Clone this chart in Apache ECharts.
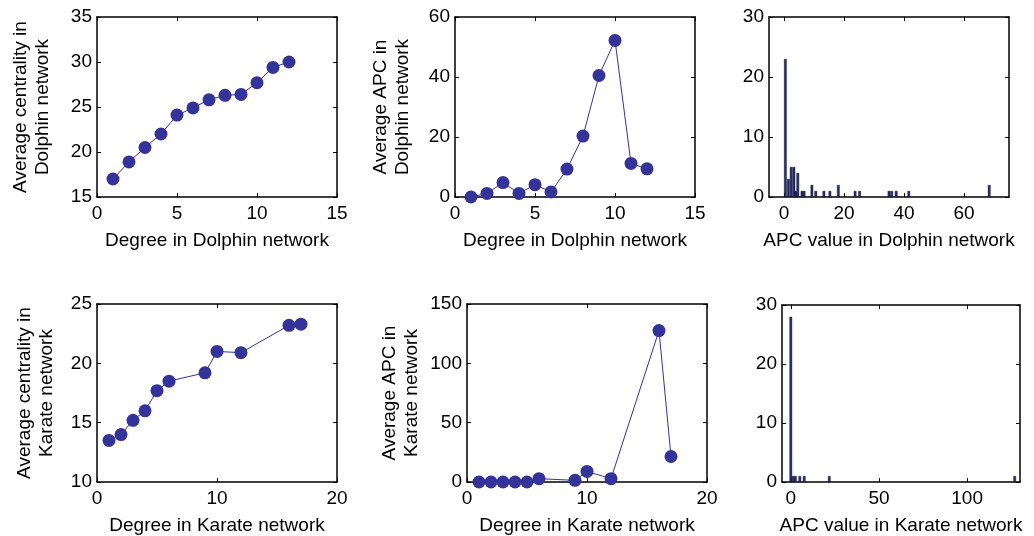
<!DOCTYPE html>
<html><head><meta charset="utf-8">
<script src="https://cdn.jsdelivr.net/npm/echarts@6/dist/echarts.min.js"></script>
<style>html,body{margin:0;padding:0;background:#fff}#c{width:1034px;height:536px}</style>
</head><body><div id="c"></div>
<script>
// ---- data ----
const dolphinDegree = [1,2,3,4,5,6,7,8,9,10,11,12];
const dolphinCentrality = [17.0,18.9,20.5,22.0,24.1,24.9,25.8,26.3,26.4,27.7,29.4,30.0];
const dolphinAPC = [0,1.2,4.8,1.2,4.1,1.7,9.3,20.3,40.5,52.2,11.2,9.4];
const karateDegree = [1,2,3,4,5,6,9,10,12,16,17];
const karateCentrality = [13.5,14.0,15.2,16.0,17.7,18.5,19.2,21.0,20.9,23.2,23.3];
const karateAPC = [0,0,0,0,0,2.8,1.4,8.9,2.8,127.6,21.5];
const dolphinHistValues = [0.45,1.45,2.4,3.3,4.0,4.6,6.0,6.7,9.3,10.6,13.3,15.3,18.1,23.7,25.2,35.0,35.9,37.4,41.6,68.4];
const dolphinHistCounts = [23,3,5,5,1,4,1,1,2,1,1,1,2,1,1,1,1,1,1,2];
const karateHistValues = [0,1.4,2.6,5.1,7.6,21.8,127];
const karateHistCounts = [28,1,1,1,1,1,1];

const xTicksDolphinHist = [0,20,40,60];
const xTicksKarateHist = [0,50,100];

const panels = [
  {box:[97,17,240,180], x:{min:0,max:15,interval:5}, y:{min:15,max:35,interval:5},
   xName:'Degree in Dolphin network', yName:'Average centrality in\nDolphin network', yGap:43},
  {box:[455,17,240,180], x:{min:0,max:15,interval:5}, y:{min:0,max:60,interval:20},
   xName:'Degree in Dolphin network', yName:'Average APC in\nDolphin network', yGap:41},
  {box:[769,17,240,180], x:{min:-5,max:75,custom:xTicksDolphinHist}, y:{min:0,max:30,interval:10},
   xName:'APC value in Dolphin network', yName:''},
  {box:[97,304,240,179], x:{min:0,max:20,interval:10}, y:{min:10,max:25,interval:5},
   xName:'Degree in Karate network', yName:'Average centrality in\nKarate network', yGap:39},
  {box:[467,304,240,179], x:{min:0,max:20,interval:10}, y:{min:0,max:150,interval:50},
   xName:'Degree in Karate network', yName:'Average APC in\nKarate network', yGap:44},
  {box:[782,305,238,178], x:{min:-5,max:130,custom:xTicksKarateHist}, y:{min:0,max:30,interval:10},
   xName:'APC value in Karate network', yName:''}
];

const FONT = 'Liberation Sans, Arial, Helvetica, sans-serif';
const FS = 19;
const lineStyle = {color:'#000', width:1.5};

const grid = [], xAxis = [], yAxis = [];
panels.forEach((p, i) => {
  grid.push({left:p.box[0], top:p.box[1], width:p.box[2], height:p.box[3], containLabel:false});
  const mkX = (pos, main) => {
    const a = {type:'value', gridIndex:i, position:pos, min:p.x.min, max:p.x.max,
      splitLine:{show:false},
      axisLine:{show:true, onZero:false, lineStyle},
      axisTick:{show:true, inside:true, length:4, lineStyle:{color:'#000', width:1}},
      axisLabel:{show:main, color:'#000', fontFamily:FONT, fontSize:FS, margin:7},
      name: main ? p.xName : '', nameLocation:'middle', nameGap:34,
      nameTextStyle:{color:'#000', fontFamily:FONT, fontSize:FS}};
    if (p.x.custom) {
      a.axisTick.customValues = p.x.custom;
      a.axisLabel.customValues = p.x.custom;
    } else a.interval = p.x.interval;
    return a;
  };
  const mkY = (pos, main) => ({type:'value', gridIndex:i, position:pos, min:p.y.min, max:p.y.max,
      interval:p.y.interval, splitLine:{show:false},
      axisLine:{show:true, onZero:false, lineStyle},
      axisTick:{show:true, inside:true, length:4, lineStyle:{color:'#000', width:1}},
      axisLabel:{show:main, color:'#000', fontFamily:FONT, fontSize:FS, margin:5},
      name: main ? p.yName : '', nameLocation:'middle', nameGap:p.yGap || 40, nameRotate:90,
      nameTextStyle:{color:'#000', fontFamily:FONT, fontSize:FS, lineHeight:22}});
  xAxis.push(mkX('bottom', true));
  xAxis.push(mkX('top', false));
  yAxis.push(mkY('left', true));
  yAxis.push(mkY('right', false));
});

const BLUE = '#333399';
const zip = (a, b) => a.map((v, k) => [v, b[k]]);
const lineSeries = (i, xs, ys) => ({type:'line', xAxisIndex:2*i, yAxisIndex:2*i, data:zip(xs, ys),
  symbol:'circle', symbolSize:13, itemStyle:{color:BLUE}, lineStyle:{color:BLUE, width:1}, animation:false});
const barSeries = (i, xs, ys, w) => ({type:'bar', xAxisIndex:2*i, yAxisIndex:2*i, data:zip(xs, ys),
  barWidth:w, itemStyle:{color:'#27307f', borderColor:'#000', borderWidth:0.4}, animation:false});

const series = [
  lineSeries(0, dolphinDegree, dolphinCentrality),
  lineSeries(1, dolphinDegree, dolphinAPC),
  barSeries(2, dolphinHistValues, dolphinHistCounts, 2.6),
  lineSeries(3, karateDegree, karateCentrality),
  lineSeries(4, karateDegree, karateAPC),
  barSeries(5, karateHistValues, karateHistCounts, 2.6)
];

const chart = echarts.init(document.getElementById('c'), null, {renderer:'canvas'});
chart.setOption({animation:false, backgroundColor:'#fff', grid, xAxis, yAxis, series});
</script>
</body></html>
